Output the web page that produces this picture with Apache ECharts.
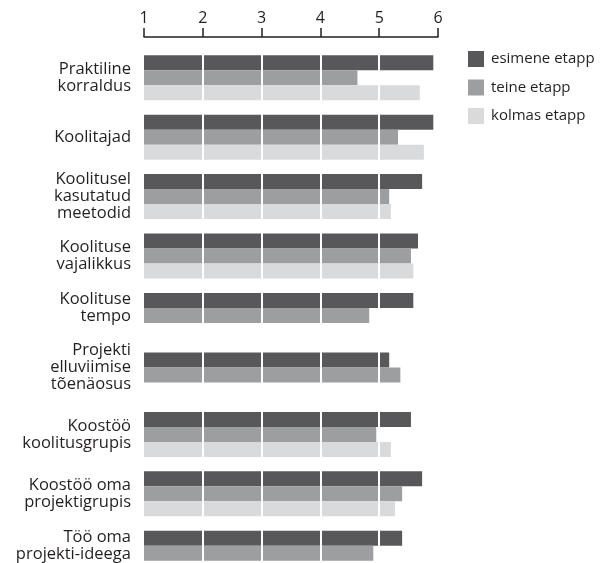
<!DOCTYPE html>
<html>
<head>
<meta charset="utf-8">
<script src="https://cdn.jsdelivr.net/npm/echarts@6/dist/echarts.min.js"></script>
<style>html,body{margin:0;padding:0;background:#fff;overflow:hidden}#c{width:607px;height:583px}</style>
</head>
<body>
<div id="c"></div>
<script>
const categories = [
  'Praktiline\nkorraldus',
  'Koolitajad',
  'Koolitusel\nkasutatud\nmeetodid',
  'Koolituse\nvajalikkus',
  'Koolituse\ntempo',
  'Projekti\nelluviimise\ntõenäosus',
  'Koostöö\nkoolitusgrupis',
  'Koostöö oma\nprojektigrupis',
  'Töö oma\nprojekti-ideega'
];
const seriesNames = ['esimene etapp', 'teine etapp', 'kolmas etapp'];
const firstStage  = [5.92, 5.92, 5.73, 5.66, 5.58, 5.17, 5.54, 5.73, 5.39];
const secondStage = [4.63, 5.32, 5.17, 5.54, 4.83, 5.36, 4.95, 5.39, 4.90];
const thirdStage  = [5.69, 5.76, 5.20, 5.58, null, null, 5.20, 5.27, null];
const xTicks = [1, 2, 3, 4, 5, 6];
const innerGridValues = [2, 3, 4, 5];

const colors = ['#58585a', '#9d9ea0', '#d9dadb'];
const font = 'Open Sans';
const textColor = '#231f20';

const chart = echarts.init(document.getElementById('c'));
const values = [firstStage, secondStage, thirdStage];
const series = values.map((d, i) => ({
  name: seriesNames[i],
  type: 'bar',
  data: d,
  barWidth: 15,
  barGap: '0%',
  itemStyle: { color: colors[i] },
  z: 2
}));
series[2].markLine = {
  silent: true,
  symbol: 'none',
  label: { show: false },
  lineStyle: { color: '#ffffff', width: 2, type: 'solid' },
  data: innerGridValues.map(v => ({ xAxis: v })),
  z: 5
};

chart.setOption({
  animation: false,
  backgroundColor: '#ffffff',
  color: colors,
  grid: { left: 144, width: 294, top: 48, bottom: 0 },
  legend: {
    orient: 'vertical',
    left: 468,
    top: 51,
    padding: 0,
    itemWidth: 16,
    itemHeight: 16,
    itemGap: 12.5,
    icon: 'rect',
    textStyle: { fontFamily: font, fontSize: 15, color: textColor, padding: [0, 0, 0, 2] },
    data: seriesNames
  },
  xAxis: {
    type: 'value',
    position: 'top',
    min: xTicks[0],
    max: xTicks[xTicks.length - 1],
    interval: 1,
    offset: 11,
    axisLine: { show: true, lineStyle: { color: '#231f20', width: 1.5 } },
    axisTick: { show: true, length: 9, lineStyle: { color: '#231f20', width: 1.5 } },
    axisLabel: { fontFamily: font, fontSize: 16, color: textColor, margin: 11 },
    splitLine: { show: false }
  },
  yAxis: {
    type: 'category',
    inverse: true,
    data: categories,
    axisLine: { show: false },
    axisTick: { show: false },
    axisLabel: {
      fontFamily: font,
      fontSize: 16.5,
      lineHeight: 17,
      color: textColor,
      margin: 13,
      align: 'right',
      formatter: (val, idx) => {
        const lines = val.split('\n').map(s => '{t|' + s + '}');
        if (thirdStage[idx] == null) lines.push('{sp| }');
        return lines.join('\n');
      },
      rich: {
        t: { fontFamily: font, fontSize: 16.5, lineHeight: 17, color: textColor, align: 'right' },
        sp: { fontSize: 4, lineHeight: 15 }
      }
    }
  },
  series: series
});
</script>
</body>
</html>
